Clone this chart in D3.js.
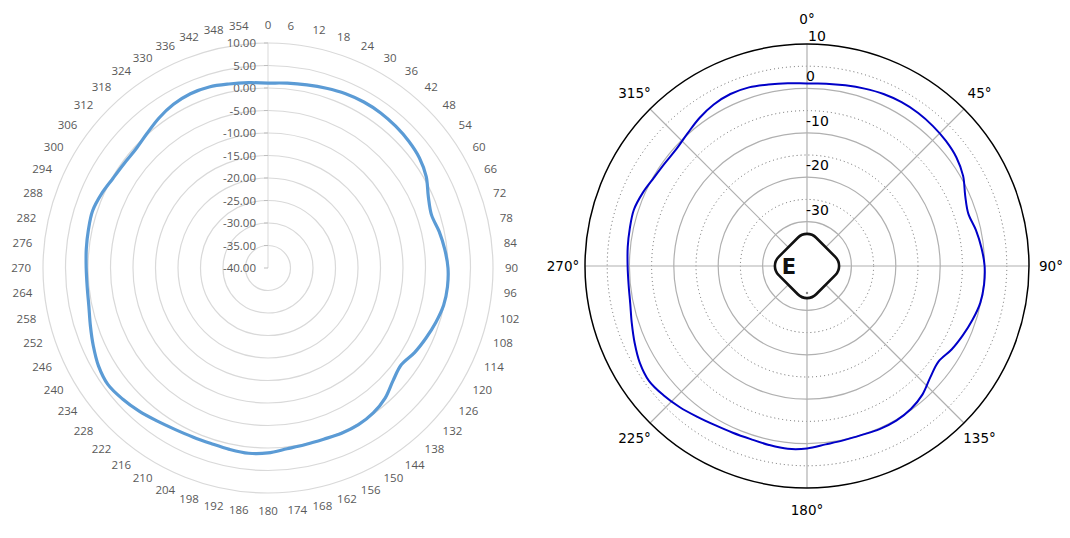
<!DOCTYPE html>
<html><head><meta charset="utf-8">
<script src="https://cdn.jsdelivr.net/npm/d3@7"></script>
<style>body{margin:0;background:#fff}</style></head>
<body><svg id="c" width="1070" height="538"></svg>
<script>
const angles = d3.range(0, 360, 6);
const gain = [1.1,1.3,1.6,2.0,2.4,2.6,2.6,2.4,2.1,1.6,0.6,-1.0,-1.8,-1.1,-0.5,0.0,0.1,-0.1,-0.8,-1.6,
  -2.4,-3.4,-2.6,-1.1,-0.2,0.2,0.2,0.0,0.1,0.4,1.1,1.4,1.2,1.0,1.1,1.4,2.0,2.8,3.5,4.0,
  3.5,2.5,1.5,0.7,0.4,0.4,0.6,0.8,1.0,0.5,-0.2,-0.5,-0.5,0.2,1.2,2.0,2.4,2.3,1.8,1.4];
const leftTicks = [10,5,0,-5,-10,-15,-20,-25,-30,-35,-40];
const rightSolid = [0,-10,-20,-30];
const rightDotted = [5,-5,-15,-25,-35];
const rightLabels = [10,0,-10,-20,-30];
const rightAngles = [0,45,90,135,180,225,270,315];

const svg = d3.select("#c");
const rad = d => d*Math.PI/180;
const data = angles.map((a,i)=>[rad(a), gain[i]]);

// LEFT
{
  const cx=268, cy=268;
  const r = d3.scaleLinear().domain([-40,10]).range([0,225]);
  const g = svg.append("g").attr("transform",`translate(${cx},${cy})`);
  leftTicks.filter(t=>t>-40).forEach(t=>g.append("circle").attr("r",r(t)).attr("fill","none").attr("stroke","#d9d9d9").attr("stroke-width",1.2));
  g.append("line").attr("x1",0).attr("x2",0).attr("y1",0).attr("y2",-r(10)).attr("stroke","#d9d9d9");
  leftTicks.forEach(t=>{
    g.append("line").attr("x1",-4).attr("x2",0).attr("y1",-r(t)).attr("y2",-r(t)).attr("stroke","#bfbfbf");
    g.append("text").attr("x",-12).attr("y",-r(t)).attr("dy","0.35em").attr("text-anchor","end")
      .attr("font-family","Open Sans, sans-serif").attr("font-size",11.5).attr("fill","#595959").text(t.toFixed(2));
  });
  angles.forEach(a=>{
    const R=243, x=R*Math.sin(rad(a)), y=-R*Math.cos(rad(a));
    g.append("text").attr("x",x).attr("y",y).attr("dy","0.35em")
      .attr("text-anchor", a===0||a===180?"middle":(a<180?"start":"end"))
      .attr("dx", a===0||a===180?0:(a<180?-6:6))
      .attr("font-family","Open Sans, sans-serif").attr("font-size",11.5).attr("fill","#595959").text(a);
  });
  const line = d3.lineRadial().angle(d=>d[0]).radius(d=>r(d[1])).curve(d3.curveCardinalClosed);
  g.append("path").datum(data).attr("d",line).attr("fill","none").attr("stroke","#5b9bd5").attr("stroke-width",3.2);
}

// RIGHT
{
  const cx=807, cy=266;
  const r = d3.scaleLinear().domain([-40,10]).range([0,222]);
  const g = svg.append("g").attr("transform",`translate(${cx},${cy})`);
  rightDotted.forEach(t=>g.append("circle").attr("r",r(t)).attr("fill","none").attr("stroke","#666").attr("stroke-width",1).attr("stroke-dasharray","1,3"));
  rightSolid.forEach(t=>g.append("circle").attr("r",r(t)).attr("fill","none").attr("stroke","#b0b0b0").attr("stroke-width",1.2));
  rightAngles.forEach(a=>g.append("line").attr("x1",0).attr("y1",0)
    .attr("x2",r(10)*Math.sin(rad(a))).attr("y2",-r(10)*Math.cos(rad(a))).attr("stroke","#b0b0b0").attr("stroke-width",1.2));
  g.append("circle").attr("r",r(10)).attr("fill","none").attr("stroke","#000").attr("stroke-width",1.5);
  rightAngles.forEach(a=>{
    const R=244, x=R*Math.sin(rad(a)), y=-R*Math.cos(rad(a));
    g.append("text").attr("x",x).attr("y",a===0?y-3:y).attr("dy","0.35em").attr("text-anchor","middle")
      .attr("font-family","DejaVu Sans, sans-serif").attr("font-size",13.5).attr("fill","#000").text(a+"°");
  });
  const line = d3.lineRadial().angle(d=>d[0]).radius(d=>r(d[1])).curve(d3.curveCardinalClosed);
  g.append("path").datum(data).attr("d",line).attr("fill","none").attr("stroke","#0000c8").attr("stroke-width",2);
  rightLabels.forEach(t=>g.append("text").attr("x",t===10?1:-1).attr("y",-r(t)-(t===10?3:7))
    .attr("font-family","DejaVu Sans, sans-serif").attr("font-size",14).attr("fill","#000").text(t));
  // logo
  g.append("rect").attr("x",-26.5).attr("y",-26.5).attr("width",53).attr("height",53).attr("rx",13)
    .attr("transform","rotate(45)").attr("fill","#fff").attr("stroke","#111").attr("stroke-width",2.6);
  g.append("text").attr("x",-18).attr("y",0).attr("dy","0.36em").attr("text-anchor","middle")
    .attr("font-family","DejaVu Sans, sans-serif").attr("font-weight","bold").attr("font-size",21).attr("fill","#111").text("E");
  g.append("circle").attr("cx",0).attr("cy",27).attr("r",1.2).attr("fill","#888");
}
</script></body></html>
